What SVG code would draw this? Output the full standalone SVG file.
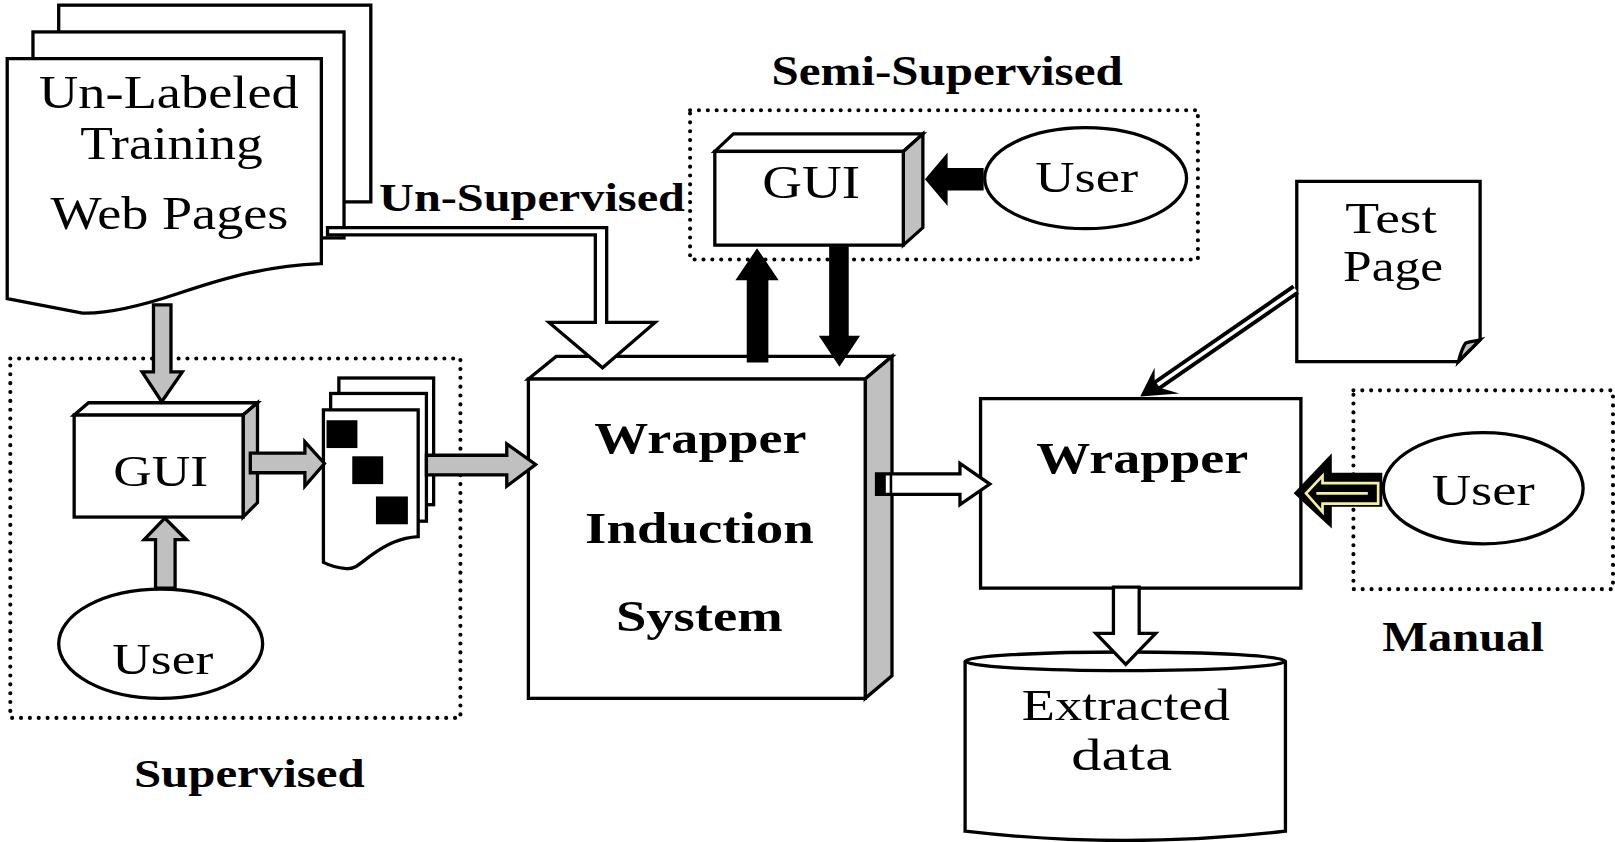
<svg xmlns="http://www.w3.org/2000/svg" width="1615" height="842" viewBox="0 0 1615 842">
<style>
.s{stroke:#000;stroke-width:3.2;stroke-linejoin:miter}
.w{fill:#fff}
.g{fill:#c0c0c0}
.k{fill:#000}
.dot{fill:none;stroke:#000;stroke-width:4;stroke-dasharray:0 8.6;stroke-linecap:round}
.t{font-family:"Liberation Serif","Times New Roman",serif;fill:#000}
.b{font-weight:bold}
</style>
<rect width="1615" height="842" fill="#fff"/>
<g transform="scale(1.03)">

<g id="supervised-group">
<rect class="dot" x="10" y="348" width="437" height="349"/>
<text class="t b" x="130" y="764" font-size="38" textLength="224" lengthAdjust="spacingAndGlyphs">Supervised</text>
</g>

<g id="semi-supervised-group">
<rect class="dot" x="670" y="107" width="493" height="145"/>
<text class="t b" x="749" y="83" font-size="40" textLength="341" lengthAdjust="spacingAndGlyphs">Semi-Supervised</text>
</g>

<g id="manual-group">
<rect class="dot" x="1314" y="379" width="252" height="193"/>
<text class="t b" x="1342" y="632" font-size="40" textLength="157" lengthAdjust="spacingAndGlyphs">Manual</text>
</g>

<g id="unlabeled-pages">
<rect class="w s" x="57" y="5" width="303" height="191"/>
<rect class="w s" x="32" y="31" width="302" height="200"/>
<path class="w s" d="M7,57 H312 V256 C290,257 265,260 242,265 S200,276 173,285 S110,305 80,304 L7,290 Z"/>
<text class="t" x="38" y="105" font-size="45" textLength="252" lengthAdjust="spacingAndGlyphs">Un-Labeled</text>
<text class="t" x="78" y="154" font-size="45" textLength="177" lengthAdjust="spacingAndGlyphs">Training</text>
<text class="t" x="49" y="222" font-size="45" textLength="231" lengthAdjust="spacingAndGlyphs">Web Pages</text>
</g>
<text class="t b" x="368" y="205" font-size="38" textLength="297" lengthAdjust="spacingAndGlyphs">Un-Supervised</text>

<g id="gui-supervised">
<polygon class="w s" points="72,403 86,391 250,391 236,403"/>
<polygon class="g s" points="236,403 250,391 250,488 236,502"/>
<rect class="w s" x="72" y="403" width="164" height="99"/>
<text class="t" x="110" y="472" font-size="44" textLength="92" lengthAdjust="spacingAndGlyphs">GUI</text>
</g>

<g id="user-supervised">
<ellipse class="w s" cx="156" cy="625" rx="99" ry="53"/>
<text class="t" x="109" y="654" font-size="42" textLength="98" lengthAdjust="spacingAndGlyphs">User</text>
</g>

<g id="labeled-pages">
<rect class="w s" x="329" y="367" width="92" height="123"/>
<rect class="w s" x="321" y="382" width="93" height="124"/>
<path class="w s" d="M314,398 H406 V521 C388,522 375,529 362,538 S345,553 336,552 C325,551 318,548 314,546 Z"/>
<rect class="k" x="317" y="408" width="30" height="27"/>
<rect class="k" x="342" y="443" width="30" height="27"/>
<rect class="k" x="365" y="482" width="31" height="27"/>
</g>

<g id="wrapper-induction-system">
<polygon class="w s" points="513,368 540,346 866,346 840,368"/>
<polygon class="g s" points="840,368 866,346 866,656 840,678"/>
<rect class="w s" x="513" y="368" width="327" height="310"/>
<text class="t b" x="577" y="440" font-size="44" textLength="206" lengthAdjust="spacingAndGlyphs">Wrapper</text>
<text class="t b" x="568" y="527" font-size="44" textLength="222" lengthAdjust="spacingAndGlyphs">Induction</text>
<text class="t b" x="598" y="613" font-size="44" textLength="162" lengthAdjust="spacingAndGlyphs">System</text>
</g>

<g id="gui-semi">
<polygon class="w s" points="694,147 712,130 896,130 877,147"/>
<polygon class="g s" points="877,147 896,130 896,221 877,238"/>
<rect class="w s" x="694" y="147" width="183" height="91"/>
<text class="t" x="740" y="192" font-size="46" textLength="95" lengthAdjust="spacingAndGlyphs">GUI</text>
</g>

<g id="user-semi">
<ellipse class="w s" cx="1054" cy="173" rx="98" ry="49"/>
<text class="t" x="1005" y="186" font-size="42" textLength="100" lengthAdjust="spacingAndGlyphs">User</text>
</g>

<g id="test-page">
<path class="w s" d="M1259,176 H1437 V330 L1416,351 H1259 Z"/>
<path class="g s" d="M1416,351 C1418,343 1420,337 1423,333 C1428,331 1433,331 1437,330 Z" stroke-width="2"/>
<text class="t" x="1306" y="226" font-size="44" textLength="89" lengthAdjust="spacingAndGlyphs">Test</text>
<text class="t" x="1304" y="273" font-size="44" textLength="97" lengthAdjust="spacingAndGlyphs">Page</text>
</g>

<g id="wrapper">
<rect class="w s" x="952" y="387" width="311" height="184"/>
<text class="t b" x="1006" y="459" font-size="44" textLength="206" lengthAdjust="spacingAndGlyphs">Wrapper</text>
</g>

<g id="user-manual">
<ellipse class="w s" cx="1440" cy="474" rx="97" ry="54"/>
<text class="t" x="1390" y="490" font-size="42" textLength="100" lengthAdjust="spacingAndGlyphs">User</text>
</g>

<g id="extracted-data">
<path class="w s" d="M937,642 V807 Q1092,825 1248,807 V642"/>
<ellipse class="w s" cx="1092.5" cy="642" rx="155.5" ry="9"/>
<text class="t" x="992" y="699" font-size="44" textLength="202" lengthAdjust="spacingAndGlyphs">Extracted</text>
<text class="t" x="1040" y="748" font-size="44" textLength="98" lengthAdjust="spacingAndGlyphs">data</text>
</g>

<g id="connectors">
<path class="w s" d="M318,221 H589 V313 H636 L585,357 L533,313 H578 V228 H318 Z"/>
<path class="g s" d="M149,296 V361 H138 L157,390 L177,361 H166 V296 Z"/>
<path class="g s" d="M243,440 H296 V429 L315,450 L296,472 V459 H243 Z"/>
<path class="g s" d="M414,442 H492 V431 L520,451 L492,472 V461 H414 Z"/>
<path class="g s" d="M151,571 V524 H140 L160,503 L181,524 H170 V571 Z"/>
<path class="k" d="M955,163 H920 V148 L898,174 L920,200 V185 H955 Z"/>
<path class="k" d="M725,352 V272 H714 L735,241 L756,272 H746 V352 Z"/>
<path class="k" d="M805,239 V326 H795 L815,356 L835,326 H824 V239 Z"/>
<path class="w s" d="M851,460 H932 V450 L961,470 L932,490 V480 H851 Z"/>
<rect class="k" x="851" y="460" width="9" height="20"/>
<line x1="865" y1="460" x2="865" y2="480" stroke="#000" stroke-width="2.5"/>
<line x1="1258" y1="281" x2="1119" y2="377" stroke="#000" stroke-width="11"/>
<line x1="1258" y1="281" x2="1124" y2="373.5" stroke="#fff" stroke-width="3.5"/>
<path class="k" d="M1107,385 L1121,357 L1121,375 L1145,382 Z"/>
<path class="k" d="M1342,459 H1293 V440 L1256,479 L1293,513 V492 H1342 Z"/>
<path d="M1338,469 H1284 V462 L1268,479 L1284,497 V489 H1338 Z" fill="none" stroke="#f4ef9a" stroke-width="2.6"/>
<line x1="1278" y1="479" x2="1328" y2="479" stroke="#f4ef9a" stroke-width="2.6"/>
<path class="w s" d="M1081,570 V615 H1064 L1093,645 L1122,615 H1106 V570 Z"/>
</g>

</g>
</svg>
